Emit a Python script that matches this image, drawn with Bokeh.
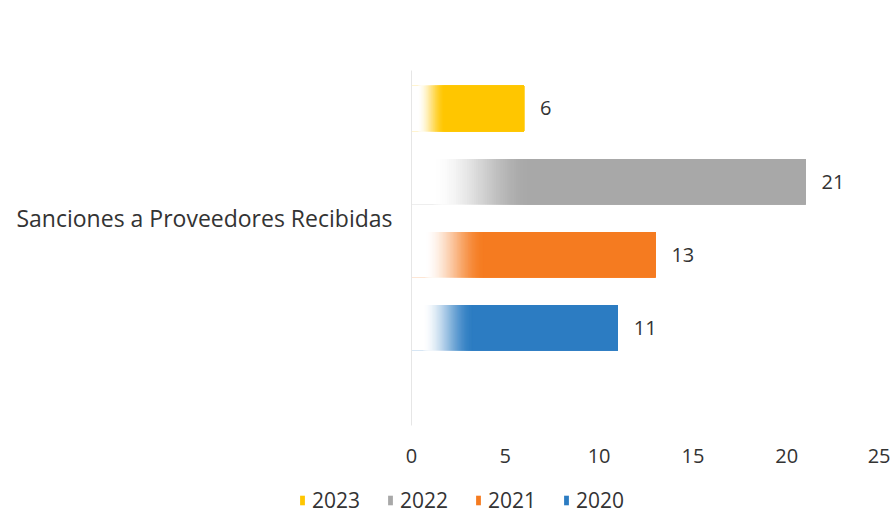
from bokeh.plotting import figure
from bokeh.models import Range1d, FixedTicker, Legend, LegendItem, ColumnDataSource
from bokeh.embed import file_html
from bokeh.resources import INLINE

category = "Sanciones a Proveedores Recibidas"
years = ["2023", "2022", "2021", "2020"]
values = [6, 21, 13, 11]
colors = ["#FFC600", "#A8A8A8", "#F57B20", "#2C7CC2"]
x_ticks = [0, 5, 10, 15, 20, 25]

FONT = "Open Sans"
TXT = "#333333"
W = 890

p = figure(width=W, height=482, output_backend="svg", toolbar_location=None,
           x_range=Range1d(0, 25), y_range=Range1d(-0.34, 4.52),
           min_border_left=411, min_border_right=10, min_border_top=70, min_border_bottom=57)
p.outline_line_color = None
p.grid.visible = False
p.background_fill_color = "white"
p.border_fill_color = "white"

ypos = [len(years) - i for i in range(len(years))]
bar_h = 0.62


def hex_to_rgb(h):
    h = h.lstrip("#")
    return tuple(int(h[i:i + 2], 16) for i in (0, 2, 4))


for yr, v, c, yy in zip(years, values, colors, ypos):
    p.hbar(y=yy, left=0, right=v, height=bar_h, fill_color=c, line_color=None)
    # gradient fade to white on the left side
    rgb = hex_to_rgb(c)
    f0, f1 = 0.05 * v, 0.30 * v
    n = 44
    lefts, rights, fills, ys = [], [], [], []
    for k in range(n):
        t = k / n
        s = t * t * (3 - 2 * t)
        w = 1 - s
        col = tuple(int(round(ch + (255 - ch) * w)) for ch in rgb)
        lefts.append(0 if k == 0 else f0 + (f1 - f0) * t)
        rights.append(v)
        fills.append("#%02x%02x%02x" % col)
        ys.append(yy)
    src = ColumnDataSource(dict(y=ys, left=lefts, right=rights, fill=fills))
    p.hbar(y="y", left="left", right="right", height=bar_h, fill_color="fill",
           line_color=None, source=src)

lab_src = ColumnDataSource(dict(x=values, y=ypos, t=[str(v) for v in values]))
p.text(x="x", y="y", text="t", source=lab_src, x_offset=16, text_align="left",
       text_baseline="middle", text_font_size="20px", text_color=TXT,
       text_font={"value": FONT})

# x axis
xa = p.xaxis[0]
xa.ticker = FixedTicker(ticks=x_ticks)
xa.axis_line_color = None
xa.major_tick_line_color = None
xa.minor_tick_line_color = None
xa.major_label_text_font_size = "20px"
xa.major_label_text_color = TXT
xa.major_label_text_font = FONT
xa.major_label_standoff = 17

# y axis with single category label
ya = p.yaxis[0]
ya.ticker = FixedTicker(ticks=[2.5])
ya.major_label_overrides = {2.5: category}
ya.axis_line_color = "#e6e6e6"
ya.major_tick_line_color = None
ya.minor_tick_line_color = None
ya.major_label_text_font_size = "23px"
ya.major_label_text_color = TXT
ya.major_label_text_font = FONT
ya.major_label_standoff = 13

# legend strip below (separate root so its frame spans the full width)
lf = figure(width=W, height=32, output_backend="svg", toolbar_location=None,
            x_range=Range1d(100, 101), y_range=Range1d(100, 101),
            min_border=0, x_axis_type=None, y_axis_type=None)
lf.outline_line_color = None
lf.grid.visible = False
items = []
for yr, v, c, yy in zip(years, values, colors, ypos):
    r = lf.hbar(y=yy, left=0, right=v, height=bar_h, fill_color=c, line_color=None)
    items.append(LegendItem(label=yr, renderers=[r]))
legend = Legend(items=items, orientation="horizontal", location=(299, 0),
                glyph_width=6, glyph_height=12, label_standoff=7, spacing=27,
                label_height=20,
                padding=0, margin=0, border_line_color=None, background_fill_alpha=0,
                label_text_font_size="21px", label_text_color=TXT, label_text_font=FONT)
lf.add_layout(legend, "center")

open("out.html", "w").write(file_html([p, lf], INLINE))
